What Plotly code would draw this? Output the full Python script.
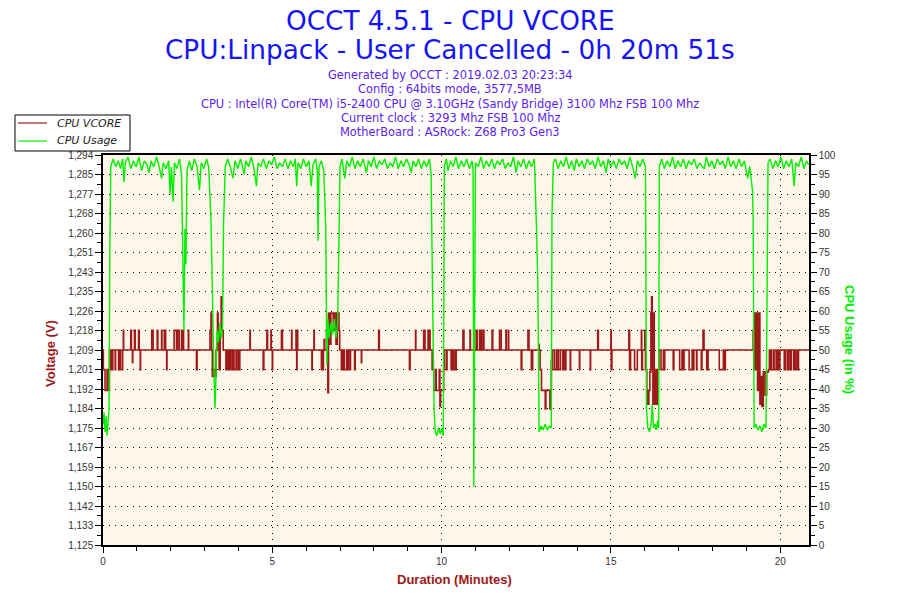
import numpy as np
import plotly.graph_objects as go

# ---------- DATA ----------
usage_min = [
    0.00, 0.03, 0.06, 0.09, 0.12, 0.15, 0.18, 0.20, 0.23,
    0.30, 0.38, 0.45, 0.52, 0.58, 0.62, 0.66, 0.74, 0.82, 0.90, 0.98, 1.06, 1.14, 1.22, 1.30, 1.36,
    1.42, 1.50, 1.58, 1.66, 1.73, 1.78, 1.86, 1.94, 1.98, 2.02, 2.07, 2.11, 2.18, 2.26, 2.32, 2.35,
    2.39, 2.42, 2.45, 2.48, 2.55, 2.62, 2.70, 2.78, 2.85, 2.90, 2.98, 3.06, 3.12,
    3.16, 3.19, 3.22, 3.25, 3.28, 3.31, 3.34, 3.37, 3.41, 3.45, 3.49, 3.53, 3.56, 3.61,
    3.68, 3.76, 3.84, 3.90, 3.98, 4.06, 4.12, 4.17, 4.22, 4.30, 4.38, 4.46, 4.53, 4.58, 4.66, 4.74,
    4.82, 4.90, 4.98, 5.06, 5.14, 5.22, 5.30, 5.38, 5.46, 5.54, 5.62, 5.68, 5.72, 5.76, 5.84, 5.92,
    6.00, 6.08, 6.15, 6.20, 6.28, 6.33, 6.35, 6.38, 6.45, 6.52, 6.58,
    6.61, 6.64, 6.68, 6.73, 6.78, 6.83, 6.88, 6.93, 6.96, 7.00,
    7.06, 7.14, 7.20, 7.28, 7.36, 7.44, 7.52, 7.60, 7.68, 7.78, 7.84, 7.92, 8.00, 8.08, 8.16, 8.24,
    8.32, 8.40, 8.48, 8.56, 8.64, 8.72, 8.80, 8.88, 8.96, 9.04, 9.10, 9.16, 9.24, 9.32, 9.40, 9.48,
    9.56, 9.64, 9.69,
    9.72, 9.75, 9.78, 9.81, 9.86, 9.91, 9.96, 10.01, 10.05, 10.08,
    10.14, 10.19, 10.26, 10.34, 10.42, 10.50, 10.58, 10.66, 10.74, 10.82, 10.90, 10.93, 10.95, 10.98,
    11.00, 11.08, 11.16, 11.24, 11.32, 11.40, 11.48, 11.56, 11.64, 11.72, 11.80, 11.88, 11.96, 12.04,
    12.12, 12.20, 12.26, 12.34, 12.42, 12.50, 12.58, 12.66, 12.74, 12.80,
    12.84, 12.88, 12.94, 13.00, 13.06, 13.12, 13.18, 13.24, 13.26, 13.30,
    13.36, 13.44, 13.52, 13.60, 13.68, 13.76, 13.84, 13.92, 13.98, 14.06, 14.14, 14.22, 14.30, 14.38,
    14.46, 14.54, 14.62, 14.70, 14.78, 14.86, 14.92, 15.00, 15.08, 15.16, 15.24, 15.32, 15.40, 15.48,
    15.56, 15.64, 15.72, 15.78, 15.86, 15.94, 16.02,
    16.05, 16.09, 16.14, 16.19, 16.22, 16.26, 16.31, 16.35, 16.38, 16.41, 16.43,
    16.50, 16.58, 16.66, 16.74, 16.82, 16.90, 16.98, 17.06, 17.14, 17.22, 17.30, 17.38, 17.46, 17.54,
    17.62, 17.70, 17.76, 17.82, 17.90, 17.98, 18.06, 18.14, 18.22, 18.30, 18.38, 18.46, 18.54, 18.62,
    18.70, 18.78, 18.86, 18.94, 19.04, 19.10, 19.18,
    19.20, 19.23, 19.28, 19.34, 19.40, 19.46, 19.52, 19.58, 19.61, 19.64,
    19.70, 19.78, 19.86, 19.94, 20.02, 20.10, 20.18, 20.26, 20.34, 20.41, 20.46, 20.54, 20.62, 20.70,
    20.78, 20.84,
]
usage_pct = [
    31, 34, 29, 33, 28, 32, 35, 74, 97,
    99, 97, 98.5, 96.5, 99, 93, 98, 99.5, 96.5, 98.5, 97, 99.5, 96, 98.5, 97.5, 95.5,
    98.5, 97, 99.5, 97, 94, 98, 96.5, 98.5, 90, 97, 88, 98, 96.5, 99, 95, 77,
    55, 81, 72, 96, 98.5, 96, 99, 97, 91, 98, 96.5, 99, 97,
    89, 83, 70, 53, 43, 35, 48, 55, 52, 57, 53, 56, 82, 97,
    99, 97, 94, 98.5, 96.5, 99, 97, 95, 98.5, 97, 99.5, 96.5, 92, 98, 97, 99,
    96.5, 98.5, 97.5, 99.5, 96.5, 98, 97, 99, 96.5, 98.5, 97, 99, 92, 98, 96.5, 99,
    97, 98.5, 92, 97.5, 99, 96, 78, 97, 98.5, 96, 81,
    46, 58, 53, 57, 54, 58, 53, 57, 71, 97,
    99, 94, 98.5, 97, 99.5, 96.5, 98.5, 97, 99, 95.5, 98.5, 97, 99.5, 96.5, 98.5, 97.5,
    99, 96.5, 98, 97, 99.5, 96.5, 98.5, 97, 99, 97.5, 95.5, 98.5, 97, 99, 96.5, 98.5,
    97, 99, 95,
    64, 53, 34, 29, 28, 30, 28.5, 30, 28, 97,
    99, 96, 98.5, 97, 99.5, 96.5, 98.5, 97, 99, 96.5, 98.5, 96, 15, 57,
    98, 97, 99.5, 96.5, 98.5, 97, 99, 96.5, 98.5, 97.5, 99, 96.5, 98, 97,
    99.5, 95.5, 98.5, 97, 99, 96.5, 98.5, 97, 99, 82,
    68, 29, 30.5, 29.5, 31, 29.5, 30.5, 30, 85, 98,
    99, 96.5, 98.5, 97, 99.5, 96.5, 98.5, 96, 99, 97, 98.5, 96.5, 99, 97.5,
    98.5, 96.5, 99.5, 97, 98.5, 95.5, 99, 97, 98.5, 96.5, 99, 97.5, 98.5, 96.5,
    99.5, 97, 94, 98.5, 97, 99, 97,
    35, 30, 29, 31, 36, 30, 31, 29.5, 32, 30, 97,
    99, 96.5, 98.5, 97, 99.5, 96.5, 98.5, 97, 99, 96.5, 98.5, 97.5, 99, 96.5,
    98, 97, 96.5, 99.5, 97, 98.5, 96.5, 99, 97.5, 98.5, 96.5, 99.5, 97, 98.5,
    96.5, 99, 97, 98.5, 94, 97, 91,
    84, 30, 31, 29.5, 30.5, 29, 31, 30, 62, 98,
    99, 96.5, 98.5, 97, 99.5, 96.5, 98.5, 97, 99, 92, 98, 97, 99.5, 96.5,
    98.5, 97.5,
]

vcore_min = [
    0.00, 0.01, 0.06, 0.12, 0.15, 0.19, 0.21, 0.23, 0.27, 0.29, 0.36, 0.37, 0.46, 0.50, 0.52, 0.58,
    0.60, 0.61, 0.82, 0.84, 0.87, 0.88, 0.93, 0.95, 1.05, 1.07, 1.10, 1.11,
    1.44, 1.48, 1.60, 1.62, 1.73, 1.74, 1.81, 1.85, 1.88, 1.89,
    2.10, 2.17, 2.20, 2.25, 2.32, 2.33, 2.35, 2.38, 2.52, 2.53, 2.76, 2.78,
    3.16, 3.19, 3.21, 3.23, 3.27, 3.31, 3.34, 3.38, 3.40, 3.43, 3.46, 3.49, 3.52, 3.55,
    3.63, 3.66, 3.70, 3.72, 3.75, 3.77, 3.82, 3.85, 3.87, 3.93, 3.95, 4.00, 4.01, 4.04,
    4.34, 4.35, 4.73, 4.75, 4.84, 4.86, 4.96, 4.97, 5.00, 5.01,
    5.27, 5.30, 5.57, 5.58, 5.70, 5.72, 5.73, 5.75,
    6.17, 6.18, 6.23, 6.24, 6.45, 6.47, 6.50, 6.51, 6.53, 6.54,
    6.60, 6.64, 6.66, 6.70, 6.73, 6.80, 6.83, 6.88, 6.92, 6.97, 6.99,
    7.04, 7.07, 7.08, 7.12, 7.13, 7.20, 7.22, 7.25, 7.30, 7.31, 7.43, 7.45, 7.63, 7.64,
    8.14, 8.16, 9.05, 9.07, 9.23, 9.24, 9.47, 9.49, 9.50, 9.51, 9.60, 9.61, 9.64, 9.66,
    9.72, 9.77, 9.83, 9.84, 9.93, 9.95, 9.97, 10.06, 10.08,
    10.14, 10.16, 10.28, 10.32, 10.35, 10.40, 10.41, 10.43,
    10.63, 10.66, 10.84, 10.85, 11.02, 11.05, 11.12, 11.14, 11.15, 11.19, 11.24, 11.25,
    11.49, 11.51, 11.71, 11.76, 11.90, 11.91, 11.97, 11.98, 12.35, 12.37, 12.55, 12.58, 12.65, 12.69,
    12.87, 12.88, 12.91, 12.95, 13.06, 13.08, 13.20, 13.22, 13.24, 13.26, 13.28,
    13.34, 13.40, 13.45, 13.51, 13.58, 13.59, 13.63, 13.67, 13.80, 13.81,
    14.07, 14.08, 14.39, 14.40, 14.61, 14.63, 15.00, 15.01, 15.03, 15.53, 15.55, 15.58,
    15.70, 15.78, 15.90, 15.91, 15.93, 16.00, 16.02,
    16.06, 16.09, 16.12, 16.15, 16.18, 16.20, 16.22, 16.24, 16.26, 16.28, 16.32, 16.35, 16.38, 16.42,
    16.48, 16.55, 16.57, 16.59, 16.84, 16.86, 17.03, 17.10, 17.13, 17.16, 17.31, 17.40, 17.43, 17.45,
    17.53, 17.54, 17.67, 17.69, 17.72, 17.75, 17.83, 17.87, 18.20, 18.32, 18.36, 18.38,
    19.20, 19.22, 19.24, 19.27, 19.30, 19.33, 19.37, 19.40, 19.43, 19.46, 19.50, 19.55, 19.60, 19.65,
    19.68, 19.70, 19.72, 19.74, 19.80, 19.82, 19.88, 19.90, 19.94, 19.97, 19.99,
    20.12, 20.16, 20.22, 20.25, 20.30, 20.33, 20.40, 20.42, 20.45, 20.50, 20.52, 20.54, 20.85,
]
vcore_v = [
    1.2095, 1.201, 1.192, 1.201, 1.192, 1.2095, 1.201, 1.2095, 1.201, 1.2095, 1.201, 1.2095, 1.201, 1.2095, 1.201, 1.2095,
    1.218, 1.2095, 1.218, 1.2095, 1.204, 1.2095, 1.218, 1.2095, 1.218, 1.2095, 1.201, 1.2095,
    1.218, 1.2095, 1.218, 1.2095, 1.218, 1.2095, 1.218, 1.2095, 1.201, 1.2095,
    1.218, 1.2095, 1.218, 1.2095, 1.218, 1.2095, 1.218, 1.2095, 1.218, 1.2095, 1.201, 1.2095,
    1.218, 1.2255, 1.2095, 1.198, 1.201, 1.198, 1.2095, 1.2255, 1.218, 1.201, 1.218, 1.2325, 1.218, 1.2095,
    1.201, 1.2095, 1.201, 1.2095, 1.201, 1.2095, 1.201, 1.2095, 1.201, 1.2095, 1.201, 1.2095, 1.201, 1.2095,
    1.218, 1.2095, 1.201, 1.2095, 1.218, 1.2095, 1.218, 1.2095, 1.201, 1.2095,
    1.218, 1.2095, 1.218, 1.2095, 1.218, 1.201, 1.218, 1.2095,
    1.201, 1.2095, 1.218, 1.2095, 1.201, 1.2095, 1.201, 1.2095, 1.214, 1.2095,
    1.218, 1.191, 1.2255, 1.212, 1.2255, 1.218, 1.2255, 1.212, 1.2255, 1.218, 1.2095,
    1.201, 1.2095, 1.201, 1.2095, 1.201, 1.2095, 1.201, 1.2095, 1.201, 1.2095, 1.201, 1.2095, 1.204, 1.2095,
    1.218, 1.2095, 1.201, 1.2095, 1.218, 1.2095, 1.218, 1.2095, 1.218, 1.2095, 1.218, 1.2095, 1.218, 1.2095,
    1.201, 1.192, 1.201, 1.192, 1.201, 1.185, 1.192, 1.201, 1.2095,
    1.201, 1.2095, 1.201, 1.2095, 1.201, 1.2095, 1.201, 1.2095,
    1.218, 1.2095, 1.218, 1.2095, 1.218, 1.2095, 1.218, 1.2095, 1.218, 1.2095, 1.218, 1.2095,
    1.218, 1.2095, 1.218, 1.2095, 1.218, 1.2095, 1.218, 1.2095, 1.201, 1.2095, 1.218, 1.2095, 1.201, 1.2095,
    1.212, 1.2095, 1.201, 1.192, 1.184, 1.192, 1.184, 1.192, 1.205, 1.201, 1.2095,
    1.201, 1.2095, 1.201, 1.2095, 1.201, 1.2095, 1.201, 1.2095, 1.201, 1.2095,
    1.201, 1.2095, 1.201, 1.2095, 1.218, 1.2095, 1.218, 1.201, 1.2095, 1.218, 1.201, 1.2095,
    1.201, 1.2095, 1.218, 1.201, 1.2095, 1.218, 1.201,
    1.192, 1.186, 1.192, 1.200, 1.2255, 1.2325, 1.201, 1.186, 1.2255, 1.186, 1.201, 1.186, 1.201, 1.2095,
    1.201, 1.2095, 1.201, 1.2095, 1.201, 1.2095, 1.201, 1.2095, 1.201, 1.2095, 1.201, 1.2095, 1.201, 1.2095,
    1.201, 1.2095, 1.201, 1.2095, 1.218, 1.2095, 1.201, 1.2095, 1.201, 1.2095, 1.201, 1.2095,
    1.218, 1.201, 1.2255, 1.201, 1.2255, 1.192, 1.2255, 1.186, 1.198, 1.185, 1.200, 1.190, 1.200, 1.201,
    1.2095, 1.201, 1.2095, 1.201, 1.2095, 1.201, 1.2095, 1.201, 1.2095, 1.201, 1.2095,
    1.201, 1.2095, 1.201, 1.2095, 1.201, 1.2095, 1.201, 1.2095, 1.201, 1.2095, 1.201, 1.2095, 1.2095,
]

volt_labels = ["1,125", "1,133", "1,142", "1,150", "1,159", "1,167", "1,175", "1,184", "1,192",
               "1,201", "1,209", "1,218", "1,226", "1,235", "1,243", "1,251", "1,260", "1,268",
               "1,277", "1,285", "1,294"]
volt_min, volt_max = 1.125, 1.294
duration_max = 20.85

title_lines = ["OCCT 4.5.1 - CPU VCORE", "CPU:Linpack - User Cancelled - 0h 20m 51s"]
info_lines = [
    "Generated by OCCT : 2019.02.03 20:23:34",
    "Config : 64bits mode, 3577,5MB",
    "CPU : Intel(R) Core(TM) i5-2400 CPU @ 3.10GHz (Sandy Bridge) 3100 Mhz FSB 100 Mhz",
    "Current clock : 3293 Mhz FSB 100 Mhz",
    "MotherBoard : ASRock: Z68 Pro3 Gen3",
]
series_names = ["CPU VCORE", "CPU Usage"]

RED = "#9e1a1a"
GREEN = "#00f000"

W, H = 900, 600
L, R, T, B = 103, 809, 155, 545   # plot area in pixels


def px(x):
    return (x - L) / (R - L)


def py(y):
    return (B - y) / (B - T)


fig = go.Figure()
fig.add_trace(go.Scatter(x=vcore_min, y=vcore_v, name=series_names[0], mode="lines",
                         line=dict(color=RED, width=1.6, shape="hv")))
fig.add_trace(go.Scatter(x=usage_min, y=usage_pct, name=series_names[1], mode="lines",
                         line=dict(color=GREEN, width=1.4), yaxis="y2"))

tickfont = dict(family="Liberation Sans, Arial", size=10, color="#333333")
volt_ticks = list(np.linspace(volt_min, volt_max, len(volt_labels)))
volt_step = volt_ticks[1] - volt_ticks[0]

fig.update_layout(
    width=W, height=H,
    margin=dict(l=L, r=W - R, t=T, b=H - B, pad=0),
    paper_bgcolor="white",
    plot_bgcolor="#fdf6e9",
    showlegend=False,
    xaxis=dict(range=[0, duration_max], tickvals=[0, 5, 10, 15, 20],
               showline=True, linecolor="black", linewidth=1.5, mirror=True,
               ticks="outside", ticklen=6, tickcolor="black", tickfont=tickfont,
               minor=dict(dtick=1, ticks="outside", ticklen=4, tickcolor="black", showgrid=False),
               showgrid=True, gridcolor="black", gridwidth=1, griddash="1px,5px",
               zeroline=False, fixedrange=True),
    yaxis=dict(range=[volt_min, volt_max], tickvals=volt_ticks, ticktext=volt_labels,
               showline=True, linecolor="black", linewidth=1.5,
               ticks="outside", ticklen=6, tickcolor="black", tickfont=tickfont,
               minor=dict(tickvals=[v + volt_step / 2 for v in volt_ticks[:-1]],
                          ticks="outside", ticklen=4, tickcolor="black", showgrid=False),
               showgrid=True, gridcolor="black", gridwidth=1, griddash="1px,5px",
               zeroline=False, fixedrange=True),
    yaxis2=dict(range=[0, 100], dtick=5, overlaying="y", side="right",
                showline=True, linecolor="black", linewidth=1.5,
                ticks="outside", ticklen=6, tickcolor="black", tickfont=tickfont,
                minor=dict(dtick=2.5, ticks="outside", ticklen=4, tickcolor="black", showgrid=False),
                showgrid=False, zeroline=False, fixedrange=True),
)


def note(text, x, y, size, color, family="DejaVu Sans", angle=0, xanchor="center", style="normal"):
    fig.add_annotation(text=text, x=px(x), y=py(y), xref="paper", yref="paper",
                       xanchor=xanchor, yanchor="middle", showarrow=False, textangle=angle,
                       font=dict(family=family, size=size, color=color, style=style))


# titles
note(title_lines[0], 450, 21, 26.3, "#1414f5")
note(title_lines[1], 450, 50, 26.3, "#1414f5")
for i, line in enumerate(info_lines):
    note(line, 450, 75 + i * 14.3, 11.4, "#5a1cf0")

# axis titles
axis_font = "Liberation Sans Narrow, Arial Narrow, Liberation Sans"
note("<b>Voltage (V)</b>", 50, 353, 13, RED, axis_font, -90)
note("<b>CPU Usage (in %)</b>", 850, 339, 13, GREEN, axis_font, 90)
note("<b>Duration (Minutes)</b>", 454, 579, 13, RED, axis_font)

# legend box drawn by hand (compact, like the original)
fig.add_shape(type="rect", xref="paper", yref="paper", x0=px(15), x1=px(130), y0=py(151), y1=py(115),
              line=dict(color="black", width=1), fillcolor="white", layer="above")
for i, (name, col) in enumerate(zip(series_names, [RED, GREEN])):
    yy = 123 + i * 18
    fig.add_shape(type="line", xref="paper", yref="paper", x0=px(18), x1=px(47), y0=py(yy), y1=py(yy),
                  line=dict(color=col, width=1.2), layer="above")
    note(name, 55, yy, 11, "#222222", xanchor="left", style="italic")

fig.write_html("out.html", config={"displayModeBar": False},
               post_script="document.body.style.margin='0';")
